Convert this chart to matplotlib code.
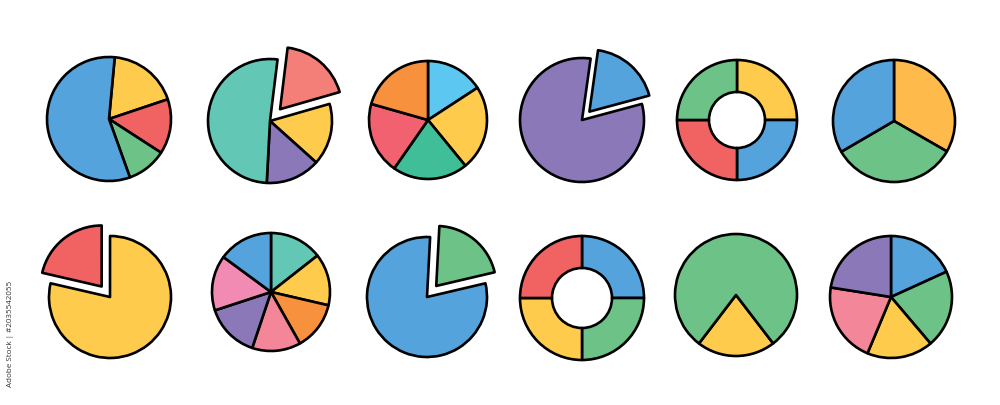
import matplotlib.pyplot as plt

# colours
blue = '#55A3DC'
yellow = '#FFCB4C'
red = '#F16263'
green = '#6CC287'
teal = '#63C7B6'
salmon = '#F47F78'
purple = '#8B78B9'
lightblue = '#5CC8F1'
orange = '#F7913E'
sea = '#3FBE97'
rose = '#F2616F'
amber = '#FEBB4C'
pink = '#F38698'
magenta = '#F18BB3'

# shares (percent), listed clockwise from each pie's start angle
pie1_vals = [18.4, 14.3, 10.4, 57.0]
pie1_cols = [yellow, red, green, blue]
pie2_vals = [18.6, 16.1, 14.2, 51.1]
pie2_cols = [salmon, yellow, purple, teal]
pie3_vals = [15.8, 23.3, 20.6, 19.7, 20.6]
pie3_cols = [lightblue, yellow, sea, rose, orange]
pie4_vals = [18.6, 81.4]
pie4_cols = [blue, purple]
donut1_vals = [25, 25, 25, 25]
donut1_cols = [yellow, blue, red, green]
pie6_vals = [33.3, 33.3, 33.4]
pie6_cols = [amber, green, blue]

pie7_vals = [21.4, 78.6]
pie7_cols = [red, yellow]
pie8_vals = [14.4, 14.2, 13.2, 13.3, 14.8, 15.1, 14.9]
pie8_cols = [teal, yellow, orange, pink, purple, magenta, blue]
pie9_vals = [20.5, 79.5]
pie9_cols = [green, blue]
donut2_vals = [25, 25, 25, 25]
donut2_cols = [blue, green, yellow, red]
pie11_vals = [20.8, 79.2]
pie11_cols = [yellow, green]
pie12_vals = [18.2, 20.6, 17.5, 21.2, 22.5]
pie12_cols = [blue, green, yellow, pink, purple]

W, H = 1000, 405
fig = plt.figure(figsize=(10, 4.05), dpi=100)
ax = fig.add_axes([0, 0, 1, 1])

lw = 1.9
edge = dict(edgecolor='black', linewidth=lw, joinstyle='round')


def draw(vals, cols, cx, cy, r, start, pull=None, hole=None):
    props = dict(edge)
    if hole is not None:
        props['width'] = r - hole
    explode = None
    if pull is not None:
        # pie's explode offset is in data units, so scale by radius
        explode = [p * r for p in pull]
    ax.pie(vals, colors=cols, center=(cx, H - cy), radius=r,
           startangle=start, counterclock=False, explode=explode,
           wedgeprops=props)


# top row
draw(pie1_vals, pie1_cols, 109, 119, 62, 84.7)
draw(pie2_vals, pie2_cols, 270, 121, 62, 83, pull=[0.25, 0, 0, 0])
draw(pie3_vals, pie3_cols, 428, 120, 59, 90)
draw(pie4_vals, pie4_cols, 582, 120, 62, 82, pull=[0.18, 0])
draw(donut1_vals, donut1_cols, 737, 120, 60, 90, hole=28)
draw(pie6_vals, pie6_cols, 894, 121, 61, 90)

# bottom row
draw(pie7_vals, pie7_cols, 110, 297, 61, 167, pull=[0.22, 0])
draw(pie8_vals, pie8_cols, 271, 292, 59, 90)
draw(pie9_vals, pie9_cols, 427, 297, 60, 87, pull=[0.24, 0])
draw(donut2_vals, donut2_cols, 582, 298, 62, 90, hole=30)
draw(pie11_vals, pie11_cols, 736, 295, 61, 307.5)
draw(pie12_vals, pie12_cols, 891, 297, 61, 90)

ax.text(11, H - 334, 'Adobe Stock | #2035542055', rotation=90,
        ha='center', va='center', fontsize=5.8, color='#333333',
        family='Open Sans')

ax.set_xlim(0, W)
ax.set_ylim(0, H)
ax.set_aspect('equal')
ax.axis('off')
fig.savefig('out.png', dpi=100, facecolor='white')
